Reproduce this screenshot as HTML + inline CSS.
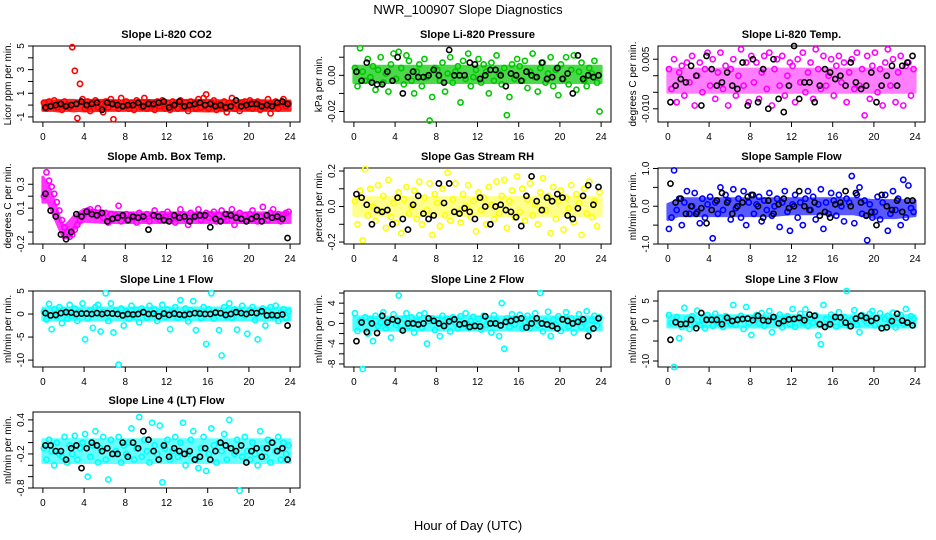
<!DOCTYPE html>
<html><head><meta charset="utf-8"><title>NWR_100907 Slope Diagnostics</title>
<style>
html,body{margin:0;padding:0;background:#fff;}
svg{display:block;font-family:"Liberation Sans",sans-serif;}
</style></head>
<body>
<svg id="chart" width="936" height="540" viewBox="0 0 936 540">
<text x="468" y="14" text-anchor="middle" font-size="13">NWR_100907  Slope Diagnostics</text>
<text x="468" y="530" text-anchor="middle" font-size="13">Hour of Day (UTC)</text>
</svg>
<script>
const xTicks = [0,4,8,12,16,20,24];
const panelTitles = ["Slope Li-820 CO2","Slope Li-820 Pressure","Slope Li-820 Temp.","Slope Amb. Box Temp.","Slope Gas Stream RH","Slope Sample Flow","Slope Line 1 Flow","Slope Line 2 Flow","Slope Line 3 Flow","Slope Line 4 (LT) Flow"];
const yTitles = ["Licor ppm per min.","kPa per min.","degrees C per min.","degrees C per min.","percent per min.","ml/min per min.","ml/min per min.","ml/min per min.","ml/min per min.","ml/min per min."];
const yTickVals = [[-1,0,1,2,3,4,5],[-0.02,-0.01,0,0.01],[-0.01,-0.005,0,0.005],[-0.2,-0.1,0,0.1,0.2,0.3],[-0.2,-0.1,0,0.1,0.2],[-1,-0.5,0,0.5,1],[-10,-5,0,5],[-8,-6,-4,-2,0,2,4,6],[-10,-5,0,5],[-0.8,-0.6,-0.4,-0.2,0,0.2,0.4]];
const yTickLabels = [["-1","","1","","3","","5"],["-0.02","","0.00",""],["-0.010","","","0.005"],["-0.2","","","0.1","","0.3"],["-0.2","","0.0","","0.2"],["-1.0","","0.0","","1.0"],["-10","-5","0","5"],["-8","","-4","","0","","4",""],["-10","","0","5"],["-0.8","","","-0.2","","","0.4"]];
const yDomains = [[-1.43,5.0],[-0.0258,0.0162],[-0.014,0.009],[-0.2,0.436],[-0.211,0.217],[-1.0,1.013],[-11.5,5.0],[-8.6,6.4],[-11.5,7.5],[-0.8,0.539]];
const seriesColors = ["#ff0000","#00c800","#ff00ff","#ff00ff","#ffff00","#0000ff","#00ffff","#00ffff","#00ffff","#00ffff"];
const bandOpacity = [0.85,0.7,0.5,0.8,0.45,0.65,0.7,0.7,0.7,0.6];

// dense-band envelope (hours, low, high)
const bandHours = [0,0.5,1,1.5,2,2.5,3,3.5,4,6,8,10,12,14,16,18,20,22,24];
const co2Lo = [-0.45,-0.45,-0.45,-0.5,-0.45,-0.45,-0.5,-0.45,-0.5,-0.45,-0.45,-0.45,-0.45,-0.45,-0.5,-0.45,-0.45,-0.45,-0.45];
const co2Hi = [0.35,0.4,0.35,0.4,0.35,0.4,0.4,0.35,0.4,0.4,0.35,0.4,0.35,0.4,0.4,0.35,0.4,0.35,0.35];
const presLo = [-.004,-.004,-.004,-.004,-.004,-.004,-.004,-.004,-.004,-.004,-.004,-.004,-.004,-.004,-.004,-.004,-.004,-.004,-.004];
const presHi = [.005,.005,.005,.005,.005,.005,.005,.005,.005,.005,.005,.005,.005,.005,.005,.005,.005,.005,.005];
const tempLo = [-.005,-.005,-.005,-.005,-.005,-.005,-.005,-.005,-.005,-.005,-.005,-.005,-.005,-.005,-.005,-.005,-.005,-.005,-.005];
const tempHi = [.002,.002,.002,.002,.002,.002,.002,.002,.002,.002,.002,.002,.002,.002,.002,.002,.002,.002,.002];
const ambLo = [0.15,0.15,0.05,-0.05,-0.15,-0.15,-0.08,-0.03,-0.01,-0.02,-0.02,-0.02,-0.02,-0.02,-0.02,-0.02,-0.02,-0.02,-0.02];
const ambHi = [0.36,0.3,0.18,0.05,-0.06,-0.02,0.03,0.06,0.09,0.07,0.06,0.06,0.06,0.06,0.06,0.06,0.06,0.06,0.06];
const rhLo = [-.05,-.05,-.05,-.05,-.05,-.05,-.05,-.05,-.05,-.05,-.05,-.05,-.05,-.05,-.05,-.05,-.05,-.05,-.05];
const rhHi = [.05,.05,.05,.05,.05,.05,.05,.05,.05,.05,.05,.05,.05,.05,.05,.05,.05,.05,.05];
const sampLo = [-.35,-.3,-.25,-.25,-.25,-.25,-.25,-.25,-.25,-.25,-.25,-.25,-.2,-.2,-.2,-.2,-.3,-.3,-.25];
const sampHi = [.05,.1,.15,.2,.2,.2,.2,.2,.2,.2,.2,.2,.2,.2,.2,.2,.15,.15,.15];
const line1Lo = [-1.3,-1.3,-1.3,-1.3,-1.3,-1.3,-1.3,-1.3,-1.3,-1.3,-1.3,-1.3,-1.3,-1.3,-1.3,-1.3,-1.3,-1.3,-1.3];
const line1Hi = [1.3,1.3,1.3,1.3,1.3,1.3,1.3,1.3,1.3,1.3,1.3,1.3,1.3,1.3,1.3,1.3,1.3,1.3,1.3];
const line2Lo = [-1.3,-1.3,-1.3,-1.3,-1.3,-1.3,-1.3,-1.3,-1.3,-1.3,-1.3,-1.3,-1.3,-1.3,-1.3,-1.3,-1.3,-1.3,-1.3];
const line2Hi = [1.3,1.3,1.3,1.3,1.3,1.3,1.3,1.3,1.3,1.3,1.3,1.3,1.3,1.3,1.3,1.3,1.3,1.3,1.3];
const line3Lo = [-1.5,-1.5,-1.5,-1.5,-1.5,-1.5,-1.5,-1.5,-1.5,-1.5,-1.5,-1.5,-1.5,-1.5,-1.5,-1.5,-1.5,-1.5,-1.5];
const line3Hi = [1.3,1.3,1.3,1.3,1.3,1.3,1.3,1.3,1.3,1.3,1.3,1.3,1.3,1.3,1.3,1.3,1.3,1.3,1.3];
const line4Lo = [-.35,-.35,-.35,-.35,-.35,-.35,-.35,-.35,-.35,-.35,-.35,-.35,-.35,-.35,-.35,-.35,-.35,-.35,-.35];
const line4Hi = [.05,.05,.05,.05,.05,.05,.05,.05,.05,.05,.05,.05,.05,.05,.05,.05,.05,.05,.05];
const bandLows = [co2Lo,presLo,tempLo,ambLo,rhLo,sampLo,line1Lo,line2Lo,line3Lo,line4Lo];
const bandHighs = [co2Hi,presHi,tempHi,ambHi,rhHi,sampHi,line1Hi,line2Hi,line3Hi,line4Hi];

const co2All = [0.2,-0.3,0.3,-0.1,0.4,-0.2,0.1,-0.4,0.3,0.0,-0.2,4.9,2.9,-1.1,1.8,0.5,-0.3,0.3,-0.5,0.2,0.4,-0.2,0.1,-0.6,0.3,-0.2,0.5,-1.2,0.2,-0.3,0.6,-0.1,0.3,-0.3,0.2,-0.4,0.4,0.1,-0.2,0.6,-0.3,0.2,0.0,-0.4,0.3,-0.1,0.4,-0.3,0.2,-0.4,0.3,0.1,-0.3,0.4,-0.2,0.2,-0.5,0.3,0.0,-0.3,0.5,-0.2,0.6,0.9,-0.3,0.2,0.4,-0.4,0.1,-0.2,0.3,-0.6,0.2,0.6,-0.3,0.0,-0.5,0.2,0.3,-0.2,0.4,-0.3,0.1,0.3,-0.4,0.2,-0.2,0.5,-0.7,0.1,0.3,-0.3,0.2,0.5,-0.1,0.1];
const co2Cal = [-0.2,-0.1,0.0,0.1,-0.1,0.0,0.1,0.3,0.0,0.1,0.2,-0.4,0.2,0.1,0.0,-0.1,0.0,0.0,0.2,-0.1,0.1,0.1,0.2,0.3,-0.2,0.0,0.3,-0.1,0.0,0.1,0.2,0.0,0.1,-0.1,0.0,-0.2,-0.1,0.4,-0.1,0.0,0.1,0.1,-0.1,0.0,-0.1,0.2,0.3,0.1];
const presAll = [.004,-.006,.015,.002,-.003,.009,-.001,.005,-.008,.003,.01,-.004,.001,-.009,.006,.012,-.002,.013,.004,-.005,.011,.008,-.003,-.01,.002,.006,-.006,.009,-.001,-.025,-.012,.004,.003,-.003,.007,-.009,.001,.01,-.004,.002,.005,-.015,.008,-.002,.012,-.006,-.001,.003,.009,-.004,.006,.002,-.01,.007,-.003,.011,.001,-.005,.004,-.022,-.012,.006,-.002,.009,.005,-.003,.008,-.007,.002,.012,-.001,-.009,.004,.007,-.004,.001,.01,-.006,.003,-.011,.006,-.002,.01,-.005,.003,.011,-.008,.002,.007,-.003,-.006,.004,.001,.008,-.004,-.02];
const presCal = [.002,-.003,.007,-.004,-.005,-.005,.002,-.003,.01,-.01,-.001,.002,-.001,-.001,0,.003,0,-.004,.014,0,0,0,.007,.006,-.002,0,.003,.003,0,-.006,.001,0,-.003,.002,0,-.001,.007,-.002,-.001,.004,-.002,.001,-.01,.011,-.002,0,-.001,0];
const tempAll = [.002,-.004,.005,-.008,.001,.003,-.006,.004,-.002,.006,-.009,0,.004,-.005,.002,.007,-.003,.005,-.007,.001,.007,-.004,.003,-.009,.002,.005,-.006,0,.008,-.003,.004,-.008,.006,-.002,.004,-.007,.001,.006,-.004,.007,-.009,.002,.005,-.003,.006,-.006,0,.004,.003,-.008,.005,-.002,.007,-.005,.001,.004,-.007,.008,.002,-.004,.006,-.003,0,.005,-.006,.003,.006,-.002,.004,-.008,.001,.005,-.004,.007,-.003,.002,-.012,.006,-.007,.003,.007,-.005,.002,-.009,.004,.008,-.003,.005,-.008,.001,.006,-.009,.003,.004,-.006,.002];
const tempCal = [-.008,-.003,-.001,-.002,.003,0,-.009,.006,.002,-.003,-.002,.001,-.003,-.004,.004,-.009,.005,-.008,.002,-.01,.005,-.007,-.011,-.003,.009,-.007,-.002,-.002,-.008,-.003,.002,.001,-.001,0,-.003,.004,-.002,-.004,-.003,.001,-.008,-.003,0,.003,-.003,.003,.004,.006];
const ambAll = [0.2,0.4,0.33,0.28,0.22,0.15,0.08,0.0,-0.06,-0.1,-0.14,-0.12,-0.08,-0.04,0.0,0.03,0.06,0.08,0.09,0.07,0.04,0.1,0.05,0.02,0.06,-0.02,0.05,0.01,0.04,0.12,-0.01,0.03,0.05,0.0,0.04,0.02,-0.02,0.06,0.03,0.01,0.05,-0.01,0.04,0.08,0.02,0.0,0.05,0.03,0.07,0.01,0.04,-0.02,0.03,0.09,0.05,0.01,-0.04,0.06,0.02,0.04,0.09,0.0,0.03,0.06,0.02,0.05,0.07,-0.01,0.04,0.08,0.02,0.0,0.05,0.09,-0.04,0.03,0.06,0.01,0.04,0.0,0.05,0.08,0.02,-0.01,0.03,0.11,0.04,0.0,0.06,0.09,0.02,0.05,-0.01,0.04,0.06,0.07];
const ambCal = [0.22,0.08,0.03,-0.12,-0.16,-0.1,0.05,0.03,0.07,0.05,0.04,0.06,-0.01,0.01,0.02,0.04,0.0,0.03,0.02,0.03,-0.08,0.04,0.03,0.0,-0.01,0.04,0.02,0.03,-0.01,0.03,0.04,0.04,-0.06,0.01,-0.01,0.05,0.04,0.02,0.01,-0.01,0.01,0.03,-0.01,0.04,0.02,0.03,0.01,-0.15];
const rhAll = [.03,-.1,.09,-.19,.21,-.05,.1,0,-.08,.12,-.03,.06,-.12,.15,-.06,.02,-.09,.08,-.15,.04,.11,-.04,0,.09,-.07,.14,-.1,.05,-.02,.13,-.16,.07,.02,-.11,.1,-.05,.19,-.08,.04,.13,-.03,-.09,.07,0,.12,-.06,.03,-.14,.08,-.02,.05,-.1,.11,.01,-.07,.14,-.04,.06,.15,-.12,.03,.09,-.06,.17,-.03,.1,-.08,.04,.13,-.05,.01,-.1,.08,.16,-.02,.06,-.15,.11,-.07,.03,.09,-.13,.05,-.01,.12,-.09,.07,.02,-.16,.1,-.04,.14,-.06,.03,-.11,.08];
const rhCal = [.07,.05,.01,-.1,-.02,-.03,-.02,-.1,.05,-.07,-.13,.01,.06,-.04,-.07,-.05,.13,.02,.13,-.03,-.04,-.01,-.03,-.07,.05,0,-.1,0,.01,-.02,-.03,-.06,-.11,.06,.17,.03,-.02,.05,.03,.07,.05,-.05,-.07,-.01,.06,.12,.01,.11];
const sampAll = [-.6,-.3,.95,-.1,.2,-.5,.1,.4,-.2,0,.35,-.15,-.45,.2,-.3,.05,.25,-.85,.1,-.2,.5,-.1,.3,.15,-.35,.45,-.05,.2,-.3,.4,-.5,.1,.3,-.2,.05,.25,-.4,.15,-.1,.35,-.25,0,.2,-.55,.1,.4,-.15,-.65,.05,.3,-.3,.1,-.5,.2,.4,-.1,.25,-.35,.05,.45,-.6,.1,-.2,.35,.15,-.25,.3,0,-.4,.2,.1,.8,-.45,.3,.5,-.2,.15,-.9,.05,-.3,-.15,.25,-.35,.1,.3,-.65,-.2,.4,-.1,.2,-.5,.7,-.3,.55,-.05,-.15];
const sampCal = [.6,.1,.2,-.2,0,-.2,-.05,-.45,-.1,.15,.35,.1,-.2,0,.1,.25,.3,0,-.3,.15,-.2,.05,.2,-.05,0,.4,0,-.1,.1,-.25,-.15,-.3,.05,.1,.4,0,.35,.1,-.25,-.15,-.5,.3,0,-.1,.15,-.15,.15,.15];
const line1All = [.5,-1.2,2.2,-3.3,1.0,-.5,1.5,-2.0,.8,-1.0,2.0,-.3,1.2,-1.5,.5,2.3,-5.5,-1.0,.8,-3.0,1.5,2.0,-3.8,.5,4.5,-1.5,2.3,-4.0,.8,-11.0,1.2,-2.5,.6,-1.0,1.8,-.5,.9,-1.8,1.2,.3,-.8,1.8,-.2,1.0,-1.5,.5,2.0,-.6,1.0,-3.3,.5,1.5,-.8,3.0,-.4,1.2,-1.6,.8,2.8,-3.5,.4,-.9,1.5,-6.5,1.0,4.5,-1.0,.5,-3.5,-9.0,1.5,-.6,2.3,-.8,1.0,-3.4,.6,1.8,-.3,-4.3,.8,1.5,-1.3,-5.5,.4,1.2,-2.5,.7,1.5,-.6,1.8,-1.5,.3,1.0,-.8,.6];
const line1Cal = [.2,-.3,-.2,.2,.4,.3,0,.1,.1,0,.2,0,.2,.1,0,-.3,0,-.1,0,.4,0,.1,-.5,.1,-.2,.1,-.1,-.2,0,.2,.1,0,0,.3,.2,-.2,0,.4,.2,0,.3,.2,.6,-.3,-.2,-.3,-.1,-2.5];
const line2All = [2.0,-1.5,.5,-9.0,1.2,-2.0,.8,-3.5,1.5,-.5,.2,2.2,-1.0,.6,-2.8,1.8,-.3,5.5,-1.2,.9,2.0,-.6,1.2,-1.8,.4,1.6,-.8,2.0,-4.0,.5,1.0,-1.3,.7,-2.5,1.5,-.4,.9,-1.6,1.2,.2,-1.0,1.4,-.2,2.0,-.8,.5,1.3,-.5,.9,-1.2,1.5,-.3,.7,-1.8,1.6,.4,-2.5,4.0,-5.0,1.0,-.7,1.8,-.2,.6,1.7,-1.0,.3,1.5,-.9,.8,2.0,-.4,6.0,-1.6,.5,2.3,-2.5,.7,-.3,1.4,-1.5,.9,2.2,-.6,1.0,-1.8,.4,1.8,-.7,.3,2.4,-1.3,.6,1.5,-.4,1.2];
const line2Cal = [-3.5,.2,-1.7,0,-1.9,1.5,.2,.8,.5,-1.4,0,0,-.2,0,1.0,.5,0,-.5,.4,.8,-.2,0,-.7,-.5,-.6,1.4,0,0,-.4,.3,.5,.8,1.0,-.8,0,1.0,0,-.2,-.5,-1.0,.8,.5,0,.3,.8,-2.5,-1.0,1.0];
const line3All = [1.5,-.5,-11.5,1.0,-4.3,-1.5,3.3,.5,-2.0,1.2,-.8,2.6,-1.0,.3,-1.8,1.5,.6,-1.2,1.8,-.4,.8,-1.5,1.2,0,-.7,4.0,-1.0,.5,1.3,-2.0,3.5,-.5,-3.5,.8,1.5,-.6,2.0,-1.2,.4,2.5,-2.8,.9,-.3,1.6,-1.6,.6,1.2,-.8,3.0,-1.5,.5,1.8,-.3,2.9,-1.2,.7,-.4,1.4,-3.6,-5.8,4.0,.5,-1.0,1.6,.8,-1.4,2.2,-.6,1.0,7.5,-1.3,.4,2.7,-.9,-2.8,1.5,.3,-.5,1.8,2.5,-1.1,.7,1.9,-1.8,.5,1.3,-.4,2.1,-1.6,.8,1.5,-.7,3.0,-.3,1.2,.6];
const line3Cal = [-4.7,-.3,-.8,-.7,.3,-1.8,2.0,.3,.3,.3,-.8,.8,0,.3,.5,.6,.2,1.3,.2,0,1.0,-.6,0,.4,.5,.8,.2,1.6,1.3,-.8,-1.5,-.8,1.0,.9,-.4,-1.3,.6,1.3,.8,0,.7,-1.8,-1.6,0,1.8,.1,-.4,-1.1];
const line4All = [-.1,-.3,.05,-.15,-.4,0,-.2,-.25,.1,-.35,-.05,-.2,.12,-.3,-.1,0,.15,-.6,-.25,-.05,.2,-.35,-.1,.1,-.3,-.65,.05,-.2,-.15,.1,-.35,-.05,-.2,0,.25,-.3,-.1,.45,-.25,.05,-.15,-.35,.35,-.05,-.2,.3,-.7,-.1,.05,-.3,-.15,.1,-.25,0,.35,-.4,-.2,.05,.2,-.3,-.45,-.1,.1,-.5,-.2,.25,-.05,-.35,0,-.15,.15,-.3,.4,-.1,-.2,.05,-.85,-.25,.1,-.15,-.3,0,-.2,-.4,.2,-.1,-.25,.05,-.35,0,-.15,.1,-.3,0,-.2,-.05];
const line4Cal = [-.05,-.05,-.15,-.15,-.3,-.1,-.05,-.45,-.1,0,-.05,-.15,-.1,-.2,-.2,0,-.25,0,-.1,.2,.05,-.15,-.3,-.05,-.25,-.1,-.15,-.2,-.15,-.3,-.25,-.1,-.3,-.15,0,-.05,-.1,-.15,-.05,-.35,-.15,-.1,-.25,-.1,0,-.15,-.1,-.3];

const allSeries = [co2All,presAll,tempAll,ambAll,rhAll,sampAll,line1All,line2All,line3All,line4All];
const calSeries = [co2Cal,presCal,tempCal,ambCal,rhCal,sampCal,line1Cal,line2Cal,line3Cal,line4Cal];

const NS = "http://www.w3.org/2000/svg";
const svg = document.getElementById("chart");
const colLeft = [33,344,658], boxW = 267, rowTop = [46,168,291,412], boxH = 76;

function mk(tag, attrs, parent){
  const e = document.createElementNS(NS, tag);
  for (const k in attrs) e.setAttribute(k, attrs[k]);
  parent.appendChild(e);
  return e;
}

panelTitles.forEach((title, p) => {
  const bx = colLeft[p % 3], by = rowTop[Math.floor(p / 3)];
  const g = mk("g", {}, svg);
  
  
  const pad = boxW * 0.04 / 1.08;
  const xs = h => bx + pad + h / 24 * (boxW - 2 * pad);
  const [y0, y1] = yDomains[p];
  const ys = v => by + boxH - (v - y0) / (y1 - y0) * boxH;

  const t = mk("text", {x: bx + boxW / 2, y: by - 8, "text-anchor": "middle", "font-size": "11", "font-weight": "bold"}, g);
  t.textContent = title;
  
  

  const lo = bandLows[p], hi = bandHighs[p];
  let pts = bandHours.map((h, i) => xs(h) + "," + ys(hi[i]));
  pts = pts.concat(bandHours.map((h, i) => xs(h) + "," + ys(lo[i])).reverse());
  const band = mk("polygon", {points: pts.join(" "), fill: seriesColors[p], stroke: seriesColors[p], "stroke-width": "3", "stroke-linejoin": "round", opacity: bandOpacity[p]}, g);
  
  

  const box = mk("rect", {x: bx, y: by, width: boxW, height: boxH, fill: "none", stroke: "#000", "stroke-width": "1"}, g);
  
  

  xTicks.forEach(h => {
    const x = xs(h);
    mk("line", {x1: x, x2: x, y1: by + boxH, y2: by + boxH + 5, stroke: "#000"}, g);
    const lb = mk("text", {x: x, y: by + boxH + 18, "text-anchor": "middle", "font-size": "10"}, g);
    lb.textContent = h;
    
    
  });

  yTickVals[p].forEach((v, i) => {
    const y = ys(v);
    mk("line", {x1: bx - 5, x2: bx, y1: y, y2: y, stroke: "#000"}, g);
    const s = yTickLabels[p][i];
    if (s) {
      const lb = mk("text", {x: bx - 9, y: y, "text-anchor": "middle", "font-size": "10", transform: "rotate(-90 " + (bx - 9) + " " + y + ")"}, g);
      lb.textContent = s;
      
      
    }
  });

  const yt = mk("text", {x: bx - 22, y: by + boxH / 2, "text-anchor": "middle", "font-size": "10", transform: "rotate(-90 " + (bx - 22) + " " + (by + boxH / 2) + ")"}, g);
  yt.textContent = yTitles[p];
  
  

  const all = allSeries[p];
  all.forEach((v, i) => {
    const c = mk("circle", {cx: xs(i * 24 / all.length + 0.1), cy: ys(v), r: 2.6, fill: "none", stroke: seriesColors[p], "stroke-width": "1.6"}, g);
    
    
  });
  const cal = calSeries[p];
  cal.forEach((v, i) => {
    const c = mk("circle", {cx: xs((i + 0.5) * 24 / cal.length), cy: ys(v), r: 2.6, fill: "none", stroke: "#000", "stroke-width": "1.6"}, g);
    
    
  });
});
</script>
</body></html>
